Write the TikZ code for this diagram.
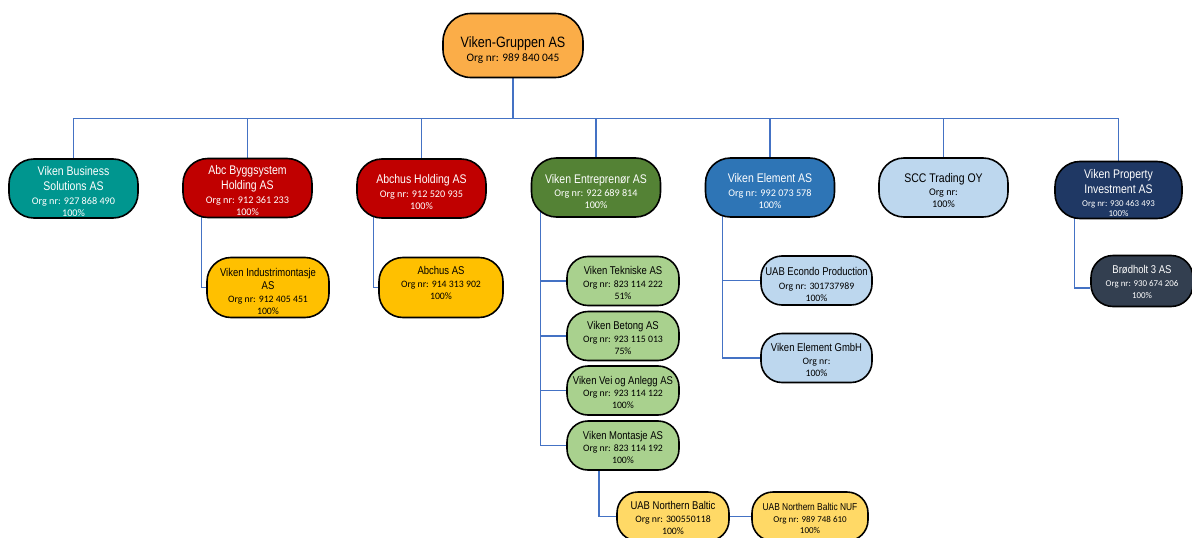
\documentclass[tikz,border=0pt]{standalone}
\usepackage{fontspec}
\setmainfont{Carlito}
\newfontfamily\narrowfont[FakeStretch=0.84]{Liberation Sans}
\usetikzlibrary{backgrounds}
\definecolor{cTop}{HTML}{FBAD48}
\definecolor{cTeal}{HTML}{00968F}
\definecolor{cRed}{HTML}{C00000}
\definecolor{cGreen}{HTML}{548235}
\definecolor{cBlue}{HTML}{2E75B6}
\definecolor{cLBlue}{HTML}{BDD7EE}
\definecolor{cNavy}{HTML}{1F3864}
\definecolor{cSlate}{HTML}{333F50}
\definecolor{cGold}{HTML}{FFC000}
\definecolor{cLGreen}{HTML}{A9D18E}
\definecolor{cYellow}{HTML}{FFD966}
\definecolor{cLine}{HTML}{4472C4}
\newcommand{\ttlTop}{\narrowfont\fontsize{15}{17}\selectfont}
\newcommand{\ttlA}{\narrowfont\fontsize{12.5}{14}\selectfont}
\newcommand{\ttlB}{\narrowfont\fontsize{11.3}{13}\selectfont}
\newcommand{\ttlC}{\narrowfont\fontsize{10}{12}\selectfont}
% invisible struts that move a node's text block down (\dn) or up (\upd)
\newcommand{\dn}[1]{\rule{0pt}{#1pt}}
\newcommand{\upd}[1]{\rule[-#1pt]{0pt}{#1pt}}
\begin{document}
\begin{tikzpicture}[x=1pt,y=-1pt,
  box/.style={draw=black, line width=1.6pt, align=center, inner sep=0pt},
  lvl1/.style={box, minimum width=129pt, minimum height=59pt, rounded corners=25pt, font=\fontsize{10.2}{12}\selectfont},
  lvl2/.style={box, minimum width=112pt, minimum height=49pt, rounded corners=21pt, font=\fontsize{9.8}{12}\selectfont},
  dark/.style={text=white},
  conn/.style={draw=cLine, line width=1.3pt}]
\useasboundingbox (0,0) rectangle (1192,538);
% top
\node[box, fill=cTop, minimum width=140pt, minimum height=64pt, rounded corners=28pt, font=\fontsize{11.4}{13}\selectfont] (top) at (513,45.5)
  {\dn{20.7}{\ttlTop Viken-Gruppen AS}\\[1pt]Org nr: 989 840 045};
% level 1
\node[lvl1, dark, fill=cTeal] (vbs) at (73.5,188.5)
  {\dn{15}{\ttlA Viken Business}\\[3pt]{\ttlA Solutions AS}\\[2.5pt]Org nr: 927 868 490\\100\%};
\node[lvl1, dark, fill=cRed] (abc) at (247.5,188)
  {\dn{15}{\ttlA Abc Byggsystem}\\[3pt]{\ttlA Holding AS}\\[2pt]Org nr: 912 361 233\\100\%};
\node[lvl1, dark, fill=cRed] (abh) at (421.5,188.5)
  {\dn{16}{\ttlA Abchus Holding AS}\\[1.5pt]Org nr: 912 520 935\\100\%};
\node[lvl1, dark, fill=cGreen] (ent) at (596,187.5)
  {\dn{17}{\ttlA Viken Entrepren\o r AS}\\[1.5pt]Org nr: 922 689 814\\100\%};
\node[lvl1, dark, fill=cBlue] (ele) at (770,187.5)
  {\dn{16}{\ttlA Viken Element AS}\\[1.5pt]Org nr: 992 073 578\\100\%};
\node[lvl1, fill=cLBlue] (scc) at (943.5,187.5)
  {\dn{15}{\ttlA SCC Trading OY}\\[1.5pt]Org nr:\\100\%};
\node[lvl1, dark, fill=cNavy, minimum width=127pt, minimum height=57pt, font=\fontsize{8.9}{10}\selectfont] (vpi) at (1118.5,190)
  {\dn{15}{\ttlA Viken Property}\\[3pt]{\ttlA Investment AS}\\[2.5pt]Org nr: 930 463 493\\100\%};
% level 2
\node[lvl2, fill=cGold, minimum width=122pt, minimum height=60pt, rounded corners=24pt] (vim) at (268,287.5)
  {\dn{16}{\ttlB Viken Industrimontasje}\\[1.5pt]{\ttlB AS}\\[1pt]Org nr: 912 405 451\\100\%};
\node[lvl2, fill=cGold, minimum width=124pt, minimum height=60pt, rounded corners=24pt] (abas) at (441,287.5)
  {{\ttlB Abchus AS}\\[0.5pt]Org nr: 914 313 902\\100\%\upd{9}};
\node[lvl2, fill=cLGreen] (tek) at (623,281)
  {\dn{12}{\ttlB Viken Tekniske AS}\\[0.5pt]Org nr: 823 114 222\\51\%};
\node[lvl2, fill=cLGreen] (bet) at (623,336)
  {\dn{12}{\ttlB Viken Betong AS}\\[0.5pt]Org nr: 923 115 013\\75\%};
\node[lvl2, fill=cLGreen] (vei) at (623,390.5)
  {\dn{12.5}{\ttlB Viken Vei og Anlegg AS}\\[0.5pt]Org nr: 923 114 122\\100\%};
\node[lvl2, fill=cLGreen] (mon) at (623,445.5)
  {\dn{12}{\ttlB Viken Montasje AS}\\[0.5pt]Org nr: 823 114 192\\100\%};
\node[lvl2, fill=cYellow] (nb) at (673,516.5)
  {\dn{11}{\ttlB UAB Northern Baltic}\\[0.5pt]Org nr: 300550118\\100\%};
\node[lvl2, fill=cYellow, minimum width=116pt, font=\fontsize{9}{11}\selectfont] (nuf) at (810,516.5)
  {\dn{11}{\ttlC UAB Northern Baltic NUF}\\[1pt]Org nr: 989 748 610\\100\%};
\node[lvl2, fill=cLBlue, minimum width=111pt] (eco) at (816.5,280.5)
  {\dn{16}{\ttlB UAB Econdo Production}\\[1.5pt]Org nr: 301737989\\100\%};
\node[lvl2, fill=cLBlue, minimum width=111pt] (gmbh) at (816.5,358)
  {\dn{12}{\ttlB Viken Element GmbH}\\[0.5pt]Org nr:\\100\%};
\node[lvl2, dark, fill=cSlate, minimum width=102pt, minimum height=51pt, rounded corners=22pt, font=\fontsize{8.9}{11.5}\selectfont] (bro) at (1142,281)
  {\dn{10.5}{\ttlB Br\o dholt 3 AS}\\[1.5pt]Org nr: 930 674 206\\100\%};
% connectors
\begin{scope}[on background layer]
  \coordinate (bus) at (513,118.5);
  \draw[conn] (top.south) -- (bus);
  \foreach \n in {vbs,abc,abh,ent,ele,scc,vpi}
    \draw[conn] (bus) -| (\n.north);
  \draw[conn] ([xshift=19pt]abc.west) |- (vim.west);
  \draw[conn] ([xshift=17pt]abh.west) |- (abas.west);
  \foreach \n in {tek,bet,vei}
    \draw[conn] ([xshift=10pt]ent.west) |- (\n.west);
  \draw[conn] ([xshift=10pt]ent.west) |- (mon.west);
  \draw[conn] ([xshift=-24pt]mon.south) |- (nb.west);
  \draw[conn] (nb.east) -- (nuf.west);
  \draw[conn] ([xshift=18pt]ele.west) |- (eco.west);
  \draw[conn] ([xshift=18pt]ele.west) |- (gmbh.west);
  \draw[conn] ([xshift=20pt]vpi.west) |- ([yshift=-7pt]bro.west);
\end{scope}
\end{tikzpicture}
\end{document}
